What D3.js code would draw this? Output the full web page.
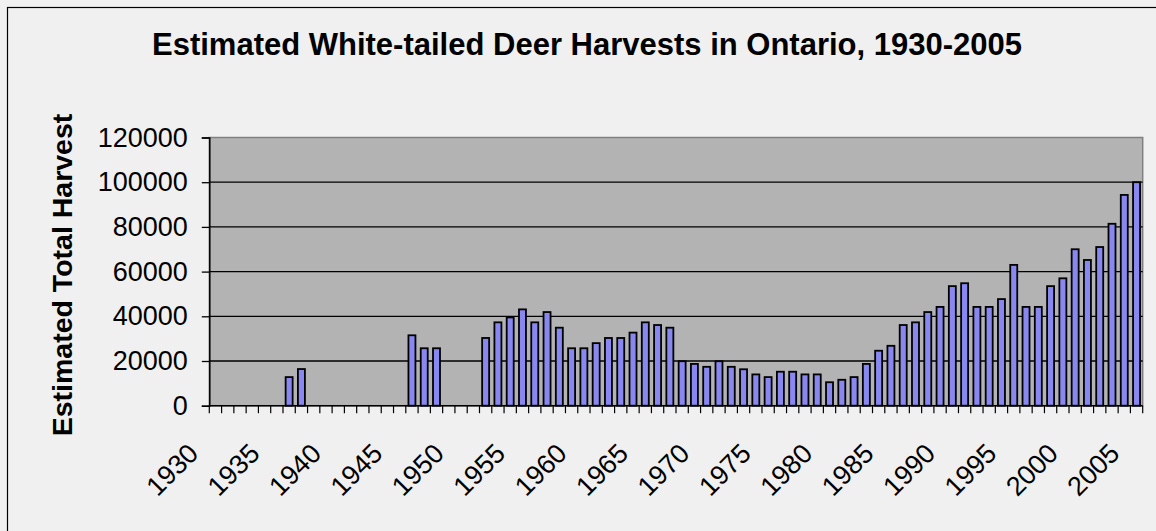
<!DOCTYPE html>
<html>
<head>
<meta charset="utf-8">
<script src="https://cdn.jsdelivr.net/npm/d3@7"></script>
<style>
  body { margin: 0; background: #f0f0f0; }
  text { font-family: "Liberation Sans", Arial, sans-serif; fill: #000; }
</style>
</head>
<body>
<div id="chart"></div>
<script>
// Data (null = no bar that year).
var firstYear = 1930, lastYear = 2005;
var years = [];
for (i = firstYear; i <= lastYear; i++)
  years.push(i);

var harvest = [
  null, null, null, null, null, null, 12800, 16400, null, null,   // 1930s
  null, null, null, null, null, null, 31500, 25700, 25700, null,  // 1940s
  null, null, 30300, 37300, 39500, 43100, 37300, 41900, 34900, 25700, // 1950s
  25700, 28000, 30300, 30300, 32700, 37300, 36100, 34900, 19900, 18700, // 1960s
  17400, 19900, 17400, 16300, 14000, 12800, 15200, 15200, 14000, 14000, // 1970s
  10500, 11600, 12800, 18700, 24600, 26800, 36100, 37300, 41900, 44200, // 1980s
  53500, 54800, 44200, 44200, 47700, 63000, 44200, 44200, 53500, 57000, // 1990s
  70000, 65200, 71000, 81400, 94300, 100000                        // 2000s
];

var yTicks = [0, 20000, 40000, 60000, 80000, 100000, 120000];
var labelEvery = 5;

var title = "Estimated White-tailed Deer Harvests in Ontario, 1930-2005",
    yTitle = "Estimated Total Harvest";

var svgWidth = 1156,
    svgHeight = 531;

var plotLeft = 209.3,
    plotRight = 1142.7,
    plotTop = 137.5,
    plotBottom = 405.7;

var data = years.map(function(d, i){ return {year: d, value: harvest[i]}; });

// SVG.
var svg = d3.select("#chart").append("svg")
  .attr("width", svgWidth)
  .attr("height", svgHeight);

// CHART AREA BORDER.
svg.append("rect")
  .attr("x", 7.5)
  .attr("y", 7.5)
  .attr("width", svgWidth + 10)
  .attr("height", svgHeight + 10)
  .attr("fill", "#f0f0f0")
  .attr("stroke", "#000")
  .attr("stroke-width", 1.2);

// SCALES.
var x = d3.scaleBand()
  .domain(years)
  .range([plotLeft, plotRight])
  .paddingInner(0.43)
  .paddingOuter(0.215);

var y = d3.scaleLinear()
  .domain([0, 120000])
  .range([plotBottom, plotTop]);

// PLOT AREA.
svg.append("rect")
  .attr("x", plotLeft)
  .attr("y", plotTop)
  .attr("width", plotRight - plotLeft)
  .attr("height", plotBottom - plotTop)
  .attr("fill", "#b3b3b3")
  .attr("stroke", "#808080")
  .attr("stroke-width", 1.5);

// GRID LINES.
svg.selectAll(".grid")
  .data(yTicks.slice(1, -1)).enter()
  .append("line")
  .attr("class", "grid")
  .attr("x1", plotLeft)
  .attr("x2", plotRight)
  .attr("y1", function(d){ return y(d); })
  .attr("y2", function(d){ return y(d); })
  .attr("stroke", "#000")
  .attr("stroke-width", 1.3);

// BARS.
svg.selectAll(".bar")
  .data(data.filter(function(d){ return d.value !== null; })).enter()
  .append("rect")
  .attr("class", "bar")
  .attr("x", function(d){ return x(d.year); })
  .attr("y", function(d){ return y(d.value); })
  .attr("width", x.bandwidth())
  .attr("height", function(d){ return y(0) - y(d.value); })
  .attr("fill", "#8888f0")
  .attr("stroke", "#000")
  .attr("stroke-width", 1.8);

// Y AXIS.
var yAxis = svg.append("g")
  .attr("transform", "translate(" + plotLeft + ",0)")
  .call(d3.axisLeft(y)
    .tickValues(yTicks)
    .tickFormat(d3.format("d"))
    .tickSize(7.5)
    .tickPadding(14));
yAxis.select(".domain").attr("stroke", "#000").attr("stroke-width", 1.5);
yAxis.selectAll(".tick line").attr("stroke", "#000").attr("stroke-width", 1.3);
yAxis.selectAll(".tick text")
  .attr("font-size", "27px")
  .attr("font-family", "Liberation Sans, Arial, sans-serif")
  .attr("fill", "#000");

// X AXIS: ticks between categories.
svg.append("line")
  .attr("x1", plotLeft)
  .attr("x2", plotRight)
  .attr("y1", y(0))
  .attr("y2", y(0))
  .attr("stroke", "#000")
  .attr("stroke-width", 1.5);

var tickEdges = years.concat([lastYear + 1]);
svg.selectAll(".xtick")
  .data(tickEdges).enter()
  .append("line")
  .attr("class", "xtick")
  .attr("x1", function(d, i){ return plotLeft + i * x.step(); })
  .attr("x2", function(d, i){ return plotLeft + i * x.step(); })
  .attr("y1", y(0))
  .attr("y2", y(0) + 7.5)
  .attr("stroke", "#000")
  .attr("stroke-width", 1.2);

svg.selectAll(".xlabel")
  .data(years.filter(function(d){ return (d - firstYear) % labelEvery === 0; })).enter()
  .append("text")
  .attr("class", "xlabel")
  .text(function(d){ return d; })
  .attr("text-anchor", "end")
  .attr("font-size", "27px")
  .attr("transform", function(d){
    var cx = x(d) + x.bandwidth() / 2 - 15.5;
    return "translate(" + cx + ",455) rotate(-45)";
  });

// TITLES.
svg.append("text")
  .text(title)
  .attr("x", 587)
  .attr("y", 55)
  .attr("text-anchor", "middle")
  .attr("font-size", "31px")
  .attr("font-weight", "bold");

svg.append("text")
  .text(yTitle)
  .attr("text-anchor", "middle")
  .attr("font-size", "28.5px")
  .attr("font-weight", "bold")
  .attr("transform", "translate(71.5,275) rotate(-90)");
</script>
</body>
</html>
